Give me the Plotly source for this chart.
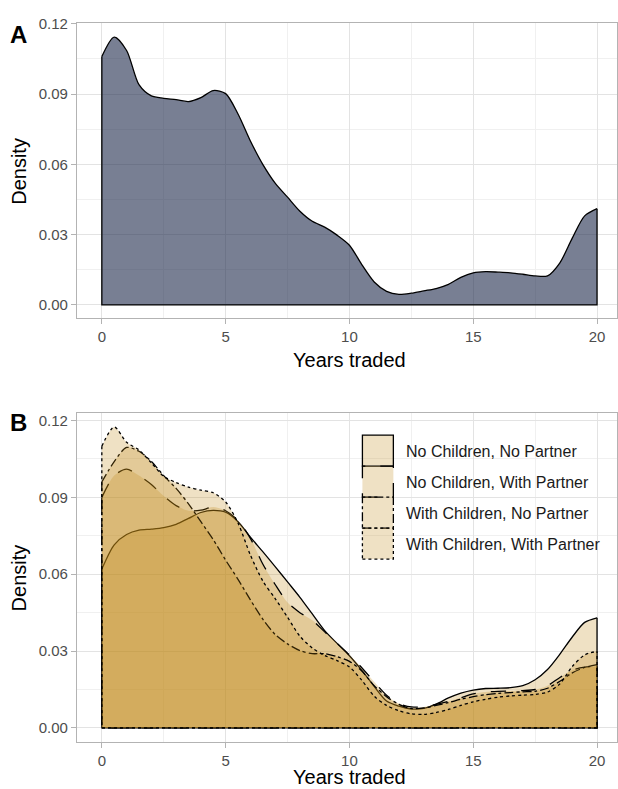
import plotly.graph_objects as go

# ---------------- data ----------------
years = [0, 0.5, 1, 1.5, 2, 2.5, 3, 3.5, 4, 4.5, 5, 5.5, 6, 6.5, 7, 7.5, 8, 8.5, 9, 9.5,
         10, 10.5, 11, 11.5, 12, 12.5, 13, 13.5, 14, 14.5, 15, 15.5, 16, 16.5, 17, 17.5,
         18, 18.5, 19, 19.5, 20]

density_all = [0.1060, 0.1143, 0.1086, 0.0940, 0.0892, 0.0882, 0.0876, 0.0868, 0.0885, 0.0915,
               0.0902, 0.0815, 0.0700, 0.0600, 0.0520, 0.0460, 0.0400, 0.0357, 0.0332, 0.0298,
               0.0255, 0.0172, 0.0098, 0.0058, 0.0045, 0.0050, 0.0060, 0.0070, 0.0088, 0.0118,
               0.0137, 0.0142, 0.0140, 0.0137, 0.0131, 0.0124, 0.0124, 0.0180, 0.0285, 0.0380,
               0.0411]

no_children_no_partner = [0.0620, 0.0715, 0.0755, 0.0772, 0.0776, 0.0782, 0.0795, 0.0818, 0.0841, 0.0849,
                          0.0842, 0.0805, 0.0745, 0.0688, 0.0630, 0.0570, 0.0510, 0.0445, 0.0380, 0.0330,
                          0.0282, 0.0225, 0.0162, 0.0105, 0.0085, 0.0074, 0.0076, 0.0093, 0.0117, 0.0136,
                          0.0148, 0.0154, 0.0155, 0.0157, 0.0165, 0.0188, 0.0228, 0.0288, 0.0355, 0.0412,
                          0.0430]

no_children_with_partner = [0.0900, 0.0985, 0.1010, 0.0985, 0.0950, 0.0905, 0.0868, 0.0848, 0.0850, 0.0862,
                            0.0848, 0.0810, 0.0740, 0.0640, 0.0560, 0.0490, 0.0450, 0.0420, 0.0375, 0.0330,
                            0.0285, 0.0235, 0.0180, 0.0128, 0.0095, 0.0082, 0.0082, 0.0092, 0.0104, 0.0118,
                            0.0133, 0.0140, 0.0143, 0.0144, 0.0146, 0.0150, 0.0165, 0.0197, 0.0225, 0.0237,
                            0.0240]

with_children_no_partner = [0.0960, 0.1040, 0.1095, 0.1080, 0.1040, 0.0985, 0.0935, 0.0875, 0.0805, 0.0735,
                            0.0655, 0.0580, 0.0500, 0.0425, 0.0365, 0.0328, 0.0302, 0.0290, 0.0290, 0.0278,
                            0.0260, 0.0222, 0.0165, 0.0122, 0.0092, 0.0076, 0.0078, 0.0088, 0.0099, 0.0112,
                            0.0122, 0.0130, 0.0135, 0.0138, 0.0141, 0.0143, 0.0155, 0.0182, 0.0215, 0.0236,
                            0.0247]

with_children_with_partner = [0.1100, 0.1175, 0.1115, 0.1085, 0.1035, 0.0982, 0.0958, 0.0940, 0.0928, 0.0918,
                              0.0882, 0.0800, 0.0675, 0.0574, 0.0505, 0.0432, 0.0358, 0.0312, 0.0283, 0.0263,
                              0.0238, 0.0186, 0.0124, 0.0088, 0.0067, 0.0055, 0.0053, 0.0060, 0.0072, 0.0088,
                              0.0102, 0.0112, 0.0120, 0.0125, 0.0128, 0.0131, 0.0140, 0.0172, 0.0240, 0.0285,
                              0.0299]

group_names = ["No Children, No Partner", "No Children, With Partner",
               "With Children, No Partner", "With Children, With Partner"]
group_values = [no_children_no_partner, no_children_with_partner,
                with_children_no_partner, with_children_with_partner]
group_dashes = ["solid", "longdash", "dashdot", "dot"]

x_ticks = [0, 5, 10, 15, 20]
x_minor = [2.5, 7.5, 12.5, 17.5]
y_ticks = [0.0, 0.03, 0.06, 0.09, 0.12]
y_tick_labels = ["0.00", "0.03", "0.06", "0.09", "0.12"]
y_minor = [0.015, 0.045, 0.075, 0.105]

# ---------------- styling ----------------
W, H = 618, 789
FONT = "Liberation Sans, Arial, sans-serif"
A_FILL = "rgba(30,42,75,0.6)"
B_FILL = "rgba(192,136,18,0.25)"
LINE_W = 1.3


def px_x(p):
    return p / W


def px_y(p):
    return 1 - p / H


fig = go.Figure()


def add_density(xv, yv, fill, dash, xa, ya, name):
    fig.add_trace(go.Scatter(
        x=xv, y=yv, mode="lines", fill="tozeroy", fillcolor=fill,
        line=dict(color="black", width=LINE_W, dash=dash, shape="spline", smoothing=0.8),
        xaxis=xa, yaxis=ya, name=name, showlegend=False, hoverinfo="skip"))
    # closing outline (vertical edges + baseline)
    fig.add_trace(go.Scatter(
        x=[xv[0], xv[0], xv[-1], xv[-1]], y=[yv[0], 0, 0, yv[-1]], mode="lines",
        line=dict(color="black", width=LINE_W, dash=dash),
        xaxis=xa, yaxis=ya, showlegend=False, hoverinfo="skip"))


add_density(years, density_all, A_FILL, "solid", "x", "y", "All")
for nm, vals, dsh in zip(group_names, group_values, group_dashes):
    add_density(years, vals, B_FILL, dsh, "x2", "y2", nm)

axis_common = dict(
    showline=True, mirror=True, linecolor="#b3b3b3", linewidth=1,
    ticks="outside", ticklen=5, tickcolor="#b3b3b3", tickwidth=1,
    showgrid=True, gridcolor="#e3e3e3", gridwidth=1, zeroline=False,
    tickfont=dict(family=FONT, size=15, color="#4d4d4d"),
)

x_range = [(77 - 102) / 24.8, (618 - 102) / 24.8]

fig.update_layout(
    width=W, height=H, margin=dict(l=0, r=0, t=0, b=0),
    paper_bgcolor="white", plot_bgcolor="white",
    font=dict(family=FONT),
    showlegend=False,
    xaxis=dict(domain=[px_x(77), 1], range=x_range, tickvals=x_ticks, anchor="y",
               minor=dict(tickvals=x_minor, showgrid=True, gridcolor="#f0f0f0", gridwidth=1),
               **axis_common),
    yaxis=dict(domain=[px_y(313), px_y(15)], range=[-0.0055, 0.1204], tickvals=y_ticks,
               ticktext=y_tick_labels, anchor="x",
               minor=dict(tickvals=y_minor, showgrid=True, gridcolor="#f0f0f0", gridwidth=1),
               **axis_common),
    xaxis2=dict(domain=[px_x(77), 1], range=x_range, tickvals=x_ticks, anchor="y2",
                minor=dict(tickvals=x_minor, showgrid=True, gridcolor="#f0f0f0", gridwidth=1),
                **axis_common),
    yaxis2=dict(domain=[px_y(741.7), px_y(409)], range=[-0.00556, 0.123], tickvals=y_ticks,
                ticktext=y_tick_labels, anchor="x2",
                minor=dict(tickvals=y_minor, showgrid=True, gridcolor="#f0f0f0", gridwidth=1),
                **axis_common),
)

shapes = []
# white legend background inside panel B
shapes.append(dict(type="rect", xref="paper", yref="paper",
                   x0=px_x(352), x1=1, y0=px_y(570), y1=px_y(409),
                   fillcolor="white", line=dict(width=0), layer="between"))
# legend keys
key_top = 431.5
key_h = 31.3
for i, dsh in enumerate(group_dashes):
    shapes.append(dict(type="rect", xref="paper", yref="paper",
                       x0=px_x(363), x1=px_x(394),
                       y0=px_y(key_top + key_h * (i + 1)), y1=px_y(key_top + key_h * i),
                       fillcolor=B_FILL, line=dict(color="black", width=LINE_W, dash=dsh),
                       layer="above"))
fig.update_layout(shapes=shapes)

annotations = []
for i, nm in enumerate(group_names):
    annotations.append(dict(text=nm, xref="paper", yref="paper", x=px_x(405),
                            y=px_y(key_top + key_h * i + key_h / 2 + 0.5),
                            xanchor="left", yanchor="middle", showarrow=False,
                            font=dict(family=FONT, size=16, color="#1a1a1a")))
# axis titles
for cy in (164.5, 575.3):
    annotations.append(dict(text="Density", xref="paper", yref="paper", x=px_x(19), y=px_y(cy),
                            textangle=-90, xanchor="center", yanchor="middle", showarrow=False,
                            font=dict(family=FONT, size=20, color="black")))
for cy in (356, 777):
    annotations.append(dict(text="Years traded", xref="paper", yref="paper", x=px_x(350), y=px_y(cy),
                            xanchor="center", yanchor="middle", showarrow=False,
                            font=dict(family=FONT, size=20, color="black")))
# panel tags
for tag, cy in (("A", 27), ("B", 419)):
    annotations.append(dict(text="<b>%s</b>" % tag, xref="paper", yref="paper", x=px_x(19), y=px_y(cy),
                            xanchor="center", yanchor="middle", showarrow=False,
                            font=dict(family=FONT, size=24, color="black")))
fig.update_layout(annotations=annotations)

fig.write_html("out.html",
               config={"displayModeBar": False},
               post_script="document.body.style.margin='0px';document.body.style.overflow='hidden';")
